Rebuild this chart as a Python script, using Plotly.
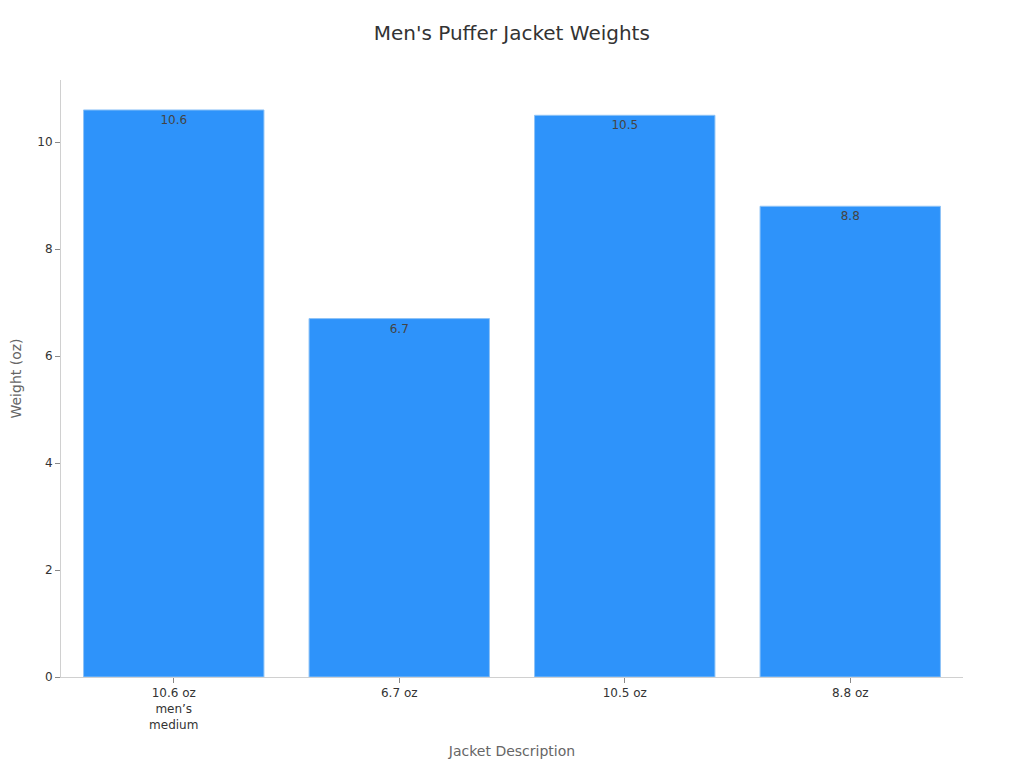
import plotly.graph_objects as go

categories = ["10.6 oz<br>men’s<br>medium", "6.7 oz", "10.5 oz", "8.8 oz"]
weights = [10.6, 6.7, 10.5, 8.8]

fig = go.Figure(go.Bar(
    x=categories,
    y=weights,
    text=[str(w) for w in weights],
    textposition="inside",
    insidetextanchor="end",
    textfont=dict(color="#444444", size=12),
    marker=dict(color="#2E93FA", line=dict(color="#8EC3F7", width=1)),
))

fig.update_layout(
    title=dict(text="Men's Puffer Jacket Weights", x=0.492, y=0.977,
               font=dict(size=20, color="#333333")),
    font=dict(family="DejaVu Sans", size=12, color="#333333"),
    paper_bgcolor="white",
    plot_bgcolor="white",
    width=1024,
    height=768,
    margin=dict(l=53, r=69, t=72, b=99),
    bargap=0.2,
    showlegend=False,
    xaxis=dict(title=dict(text="Jacket Description", font=dict(size=14, color="#666666")),
               showline=True, linecolor="#d0d0d0", ticks="outside", ticklen=5,
               tickcolor="#888888", showgrid=False),
    yaxis=dict(title=dict(text="Weight (oz)", font=dict(size=14, color="#666666"), standoff=12),
               range=[0, 11.16], showline=True, linecolor="#d0d0d0", ticks="outside",
               ticklen=5, tickcolor="#888888", showgrid=False, zeroline=False,
               dtick=2, automargin=False),
)

fig.write_html("out.html")
